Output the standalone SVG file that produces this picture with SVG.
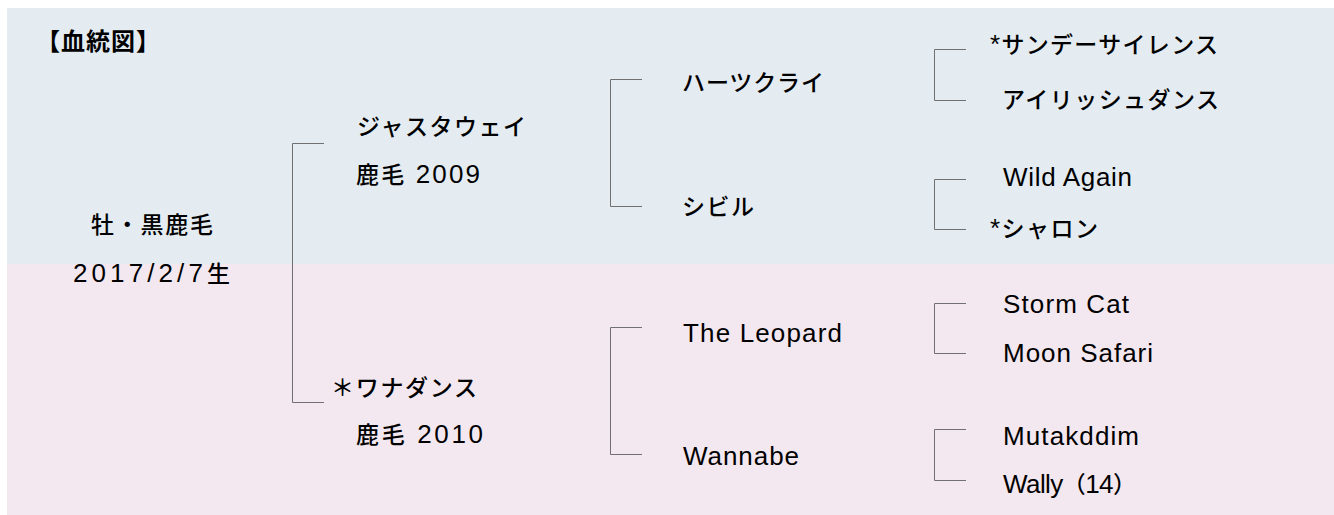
<svg xmlns="http://www.w3.org/2000/svg" width="1334" height="515" viewBox="0 0 1334 515">
<style>
.bg1{fill:#e4ecf2}
.bg2{fill:#f3e8ef}
.t{font-family:"Liberation Sans","Noto Sans CJK JP",sans-serif;fill:#000;font-size:23px}
.e{font-size:26px}
.j{font-size:23px;font-weight:500}
.h{font-weight:bold;font-size:24px}
.ln{fill:none;stroke:#707070;stroke-width:1}
</style>
<rect class="bg1" x="7" y="8" width="1327" height="256"/>
<rect class="bg2" x="7" y="264" width="1327" height="251"/>
<g id="title"><text class="t h" x="36" y="50" textLength="124" lengthAdjust="spacing">【血統図】</text></g>
<g id="connectors">
<path class="ln" d="M324,143.5 H292.5 V402.5 H324"/>
<path class="ln" d="M642,79.5 H610.5 V206.5 H642"/>
<path class="ln" d="M642,327.5 H610.5 V454.5 H642"/>
<path class="ln" d="M966,49.5 H934.5 V100.5 H966"/>
<path class="ln" d="M966,179.5 H934.5 V229.5 H966"/>
<path class="ln" d="M966,303.5 H934.5 V353.5 H966"/>
<path class="ln" d="M966,429.5 H934.5 V480.5 H966"/>
</g>
<g id="foal">
<text class="t j" x="91" y="233" textLength="122" lengthAdjust="spacing">牡・黒鹿毛</text>
<text class="t" x="73" y="282" textLength="157" lengthAdjust="spacing"><tspan class="e">2017/2/7</tspan><tspan class="j">生</tspan></text>
</g>
<g id="sire">
<text class="t j" x="357" y="135" textLength="169" lengthAdjust="spacing">ジャスタウェイ</text>
<text class="t" x="356" y="183" textLength="124" lengthAdjust="spacing"><tspan class="j">鹿毛</tspan><tspan class="e"> 2009</tspan></text>
</g>
<g id="dam">
<text class="t j" x="331" y="396" textLength="146" lengthAdjust="spacing">＊ワナダンス</text>
<text class="t" x="356" y="443" textLength="127" lengthAdjust="spacing"><tspan class="j">鹿毛</tspan><tspan class="e"> 2010</tspan></text>
</g>
<g id="ss"><text class="t j" x="682" y="91" textLength="142" lengthAdjust="spacing">ハーツクライ</text></g>
<g id="sd"><text class="t j" x="682" y="215" textLength="72" lengthAdjust="spacing">シビル</text></g>
<g id="ds"><text class="t e" x="683" y="342" textLength="159" lengthAdjust="spacing">The Leopard</text></g>
<g id="dd"><text class="t e" x="683" y="465" textLength="116" lengthAdjust="spacing">Wannabe</text></g>
<g id="sss"><text class="t" x="990" y="53" textLength="228" lengthAdjust="spacing"><tspan class="e">*</tspan><tspan class="j">サンデーサイレンス</tspan></text></g>
<g id="ssd"><text class="t j" x="1002" y="108" textLength="217" lengthAdjust="spacing">アイリッシュダンス</text></g>
<g id="sds"><text class="t e" x="1003" y="186" textLength="129" lengthAdjust="spacing">Wild Again</text></g>
<g id="sdd"><text class="t" x="990" y="237" textLength="108" lengthAdjust="spacing"><tspan class="e">*</tspan><tspan class="j">シャロン</tspan></text></g>
<g id="dss"><text class="t e" x="1003" y="313" textLength="126" lengthAdjust="spacing">Storm Cat</text></g>
<g id="dsd"><text class="t e" x="1003" y="362" textLength="150" lengthAdjust="spacing">Moon Safari</text></g>
<g id="dds"><text class="t e" x="1003" y="445" textLength="136" lengthAdjust="spacing">Mutakddim</text></g>
<g id="ddd"><text class="t" x="1003" y="493" textLength="133" lengthAdjust="spacing"><tspan class="e">Wally</tspan><tspan class="j">（</tspan><tspan class="e">14</tspan><tspan class="j">）</tspan></text></g>
</svg>
